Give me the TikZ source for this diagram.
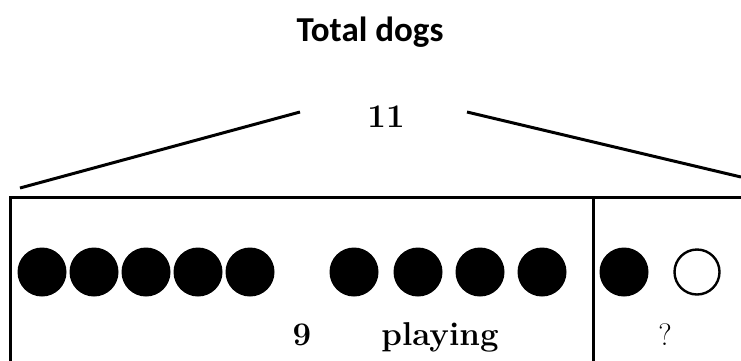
\documentclass[tikz,border=0pt]{standalone}
\usepackage{fontspec}
\setsansfont{Carlito}
\begin{document}
\begin{tikzpicture}[x=1pt,y=-1pt,
    dot/.style={circle,fill=black,minimum size=49pt,inner sep=0pt},
    hole/.style={circle,draw=black,line width=2.4pt,fill=white,minimum size=45pt,inner sep=0pt},
    bar/.style={line width=3pt},
    lbl/.style={anchor=base,font=\bfseries\fontsize{33}{38}\selectfont}]
    \useasboundingbox (0,0) rectangle (741,360);
    \clip (0,0) rectangle (741,360);
    \draw (370,41) node[anchor=base,font=\sffamily\bfseries\fontsize{35}{40}\selectfont] (total) {Total dogs};
    \draw (386,127) node[lbl] (n11) {11};
    \coordinate (lt) at (300,112);
    \coordinate (lb) at (20,188);
    \coordinate (rt) at (467,112);
    \coordinate (rb) at (741,177);
    \draw[bar] (lt) -- (lb);
    \draw[bar] (rt) -- (rb);
    % bar model
    \draw[bar] (10,370) -- (10,197) -- (751,197);
    \draw[bar] (593,197) -- (593,370);
    \foreach \x [count=\i] in {42,94,146,198,250,354,418,480,542,624}
        \node[dot] (d\i) at (\x,272) {};
    \node[hole] (d12) at (697,272) {};
    \draw (302,345) node[lbl] (n9) {9};
    \draw (440,345) node[lbl] (play) {playing};
    \draw (665,345) node[anchor=base,font=\fontsize{31}{36}\selectfont] (ask) {?};
\end{tikzpicture}
\end{document}
